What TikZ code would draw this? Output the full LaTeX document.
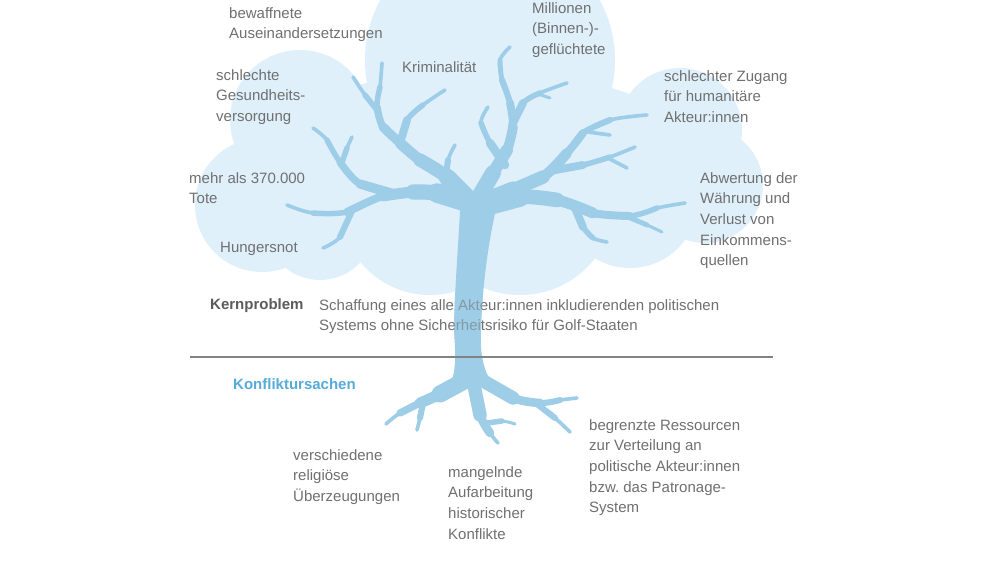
\documentclass[tikz,border=0pt]{standalone}
\usepackage{fontspec}
\setmainfont{Liberation Sans}
\frenchspacing
\definecolor{cloudc}{RGB}{223,240,251}
\definecolor{treec}{RGB}{158,205,232}
\definecolor{txtc}{RGB}{112,112,112}
\definecolor{headc}{RGB}{92,92,92}
\definecolor{bluec}{RGB}{88,170,216}
\definecolor{rulec}{RGB}{130,130,130}
\newcommand\lp[2]{\draw[tree, line width=1.22*#1pt] plot[smooth, tension=0.6] coordinates {#2};}
\begin{document}
\begin{tikzpicture}[x=1pt,y=-1pt,
  tree/.style={draw=treec, line cap=round, line join=round},
  lab/.style={anchor=north west, inner sep=0pt, align=left, text=txtc,
    font=\fontsize{15}{20.7}\selectfont},
  head/.style={lab, text=headc, font=\fontsize{15}{20.7}\selectfont\bfseries},
  cause/.style={lab, text=bluec, font=\fontsize{15}{20.7}\selectfont\bfseries}]
\useasboundingbox (0,0) rectangle (1000,571);
\fill[white] (0,0) rectangle (1000,571);
% cloud
\fill[cloudc] (490,60) circle[radius=125pt];
\fill[cloudc] (300,120) circle[radius=70pt];
\fill[cloudc] (262,205) circle[radius=67pt];
\fill[cloudc] (320,225) circle[radius=55pt];
\fill[cloudc] (430,205) circle[radius=90pt];
\fill[cloudc] (520,200) circle[radius=95pt];
\fill[cloudc] (680,130) circle[radius=62pt];
\fill[cloudc] (705,185) circle[radius=58pt];
\fill[cloudc] (630,200) circle[radius=68pt];
\fill[cloudc] (480,170) ellipse[x radius=230pt, y radius=100pt];
% trunk
\fill[treec] (461,194) .. controls (458,250) and (454,300) .. (454,330)
  .. controls (455,350) and (457,365) .. (451,384) -- (494,386)
  .. controls (482,370) and (480,350) .. (481,330)
  .. controls (482,290) and (488,240) .. (499,196) -- cycle;
% left big branch
\lp{3}{(462,200)(437,193)(413,192)(383,196)(347,212)(313,213)(287,205)}
\lp{4.5}{(462,200)(437,193)(413,192)(383,196)(347,212)(313,213)}
\lp{6.5}{(462,200)(437,193)(413,192)(383,196)(347,212)}
\lp{9}{(462,200)(437,193)(413,192)(383,196)}
\lp{12.5}{(462,200)(437,193)(413,192)}
\lp{16}{(466,202)(437,193)}
\lp{3}{(395,194)(360,184)(340,162)(327,140)(313,128)}
\lp{4.5}{(395,194)(360,184)(340,162)(327,140)}
\lp{6}{(395,194)(360,184)(340,162)}
\lp{7.5}{(395,194)(360,184)}
\lp{3}{(341,165)(347,148)(352,137)}
\lp{4.5}{(341,165)(347,148)}
\lp{3}{(352,211)(340,237)(323,248)}
\lp{5}{(352,211)(340,237)}
% middle-left upward branch
\lp{3}{(467,197)(447,177)(420,160)(400,143)(383,127)(377,107)(380,87)(382,63)}
\lp{4.5}{(467,197)(447,177)(420,160)(400,143)(383,127)(377,107)(380,87)}
\lp{6}{(467,197)(447,177)(420,160)(400,143)(383,127)(377,107)}
\lp{7.5}{(467,197)(447,177)(420,160)(400,143)(383,127)}
\lp{9}{(467,197)(447,177)(420,160)(400,143)}
\lp{11}{(467,197)(447,177)(420,160)}
\lp{14}{(467,197)(447,177)}
\lp{3}{(377,110)(365,95)(353,77)}
\lp{4.5}{(377,110)(365,95)}
\lp{3}{(400,143)(407,120)(423,105)(445,90)}
\lp{4.5}{(400,143)(407,120)(423,105)}
\lp{6.5}{(400,143)(407,120)}
\lp{3}{(445,182)(448,160)(455,145)}
\lp{5}{(445,182)(448,160)}
% tall centre-right branch
\lp{3}{(480,195)(493,173)(507,150)(513,127)(510,103)(502,80)(500,60)(510,47)}
\lp{4}{(480,195)(493,173)(507,150)(513,127)(510,103)(502,80)(500,60)}
\lp{5}{(480,195)(493,173)(507,150)(513,127)(510,103)(502,80)}
\lp{6.5}{(480,195)(493,173)(507,150)(513,127)(510,103)}
\lp{8}{(480,195)(493,173)(507,150)(513,127)}
\lp{10}{(480,195)(493,173)(507,150)}
\lp{13}{(480,195)(493,173)}
\lp{3}{(512,125)(523,103)(540,93)(567,83)}
\lp{4.5}{(512,125)(523,103)(540,93)}
\lp{6.5}{(512,125)(523,103)}
\lp{2.5}{(538,94)(550,98)}
\lp{3}{(505,165)(490,143)(481,123)(488,107)}
\lp{4.5}{(505,165)(490,143)(481,123)}
\lp{7}{(505,165)(490,143)}
% right upper branch
\lp{3}{(483,202)(513,190)(543,177)(567,153)(583,133)(610,120)(647,115)}
\lp{5}{(483,202)(513,190)(543,177)(567,153)(583,133)(610,120)}
\lp{6.5}{(483,202)(513,190)(543,177)(567,153)(583,133)}
\lp{8.5}{(483,202)(513,190)(543,177)(567,153)}
\lp{11}{(483,202)(513,190)(543,177)}
\lp{14}{(483,202)(513,190)}
\lp{3}{(588,132)(610,135)}
\lp{3}{(550,171)(583,165)(610,157)(635,147)}
\lp{4.5}{(550,171)(583,165)(610,157)}
\lp{6.5}{(550,171)(583,165)}
\lp{3}{(608,158)(627,168)}
% right lower branch
\lp{3}{(483,207)(520,197)(557,200)(593,213)(630,216)(657,208)(685,203)}
\lp{4.5}{(483,207)(520,197)(557,200)(593,213)(630,216)(657,208)}
\lp{6.5}{(483,207)(520,197)(557,200)(593,213)(630,216)}
\lp{9}{(483,207)(520,197)(557,200)(593,213)}
\lp{12}{(483,207)(520,197)(557,200)}
\lp{16}{(483,207)(520,197)}
\lp{2.5}{(628,217)(647,225)(662,232)}
\lp{4}{(628,217)(647,225)}
\lp{3}{(575,208)(583,227)(593,238)(607,242)}
\lp{4.5}{(575,208)(583,227)(593,238)}
\lp{6.5}{(575,208)(583,227)}
% roots
\lp{3}{(466,380)(440,394)(420,403)(400,413)(386,424)}
\lp{6}{(466,380)(440,394)(420,403)(400,413)}
\lp{9}{(466,380)(440,394)(420,403)}
\lp{14}{(466,380)(440,394)}
\lp{3}{(423,403)(420,418)(417,430)}
\lp{5}{(423,403)(420,418)}
\lp{3}{(474,385)(480,415)(490,433)(498,443)}
\lp{7}{(474,385)(480,415)(490,433)}
\lp{11}{(474,385)(480,415)}
\lp{2.5}{(487,423)(502,421)(515,424)}
\lp{4.5}{(487,423)(502,421)}
\lp{3}{(478,378)(513,398)(540,403)(560,400)(577,398)}
\lp{5}{(478,378)(513,398)(540,403)(560,400)}
\lp{7}{(478,378)(513,398)(540,403)}
\lp{11}{(478,378)(513,398)}
\lp{3}{(537,404)(555,418)(570,432)}
\lp{5}{(537,404)(555,418)}
% texts
\node[lab] (t1) at (229,7) {bewaffnete\\Auseinandersetzungen};
\node[lab] (t2) at (532,2) {Millionen\\(Binnen-)-\\geflüchtete};
\node[lab] (t3) at (402,61) {Kriminalität};
\node[lab] (t4) at (216,69) {schlechte\\Gesundheits-\\versorgung};
\node[lab] (t5) at (664,70) {schlechter Zugang\\für humanitäre\\Akteur:innen};
\node[lab] (t6) at (189,172) {mehr als 370.000\\Tote};
\node[lab] (t7) at (700,172) {Abwertung der\\Währung und\\Verlust von\\Einkommens-\\quellen};
\node[lab] (t8) at (220,242) {Hungersnot};
\node[head] (kp) at (210,298) {Kernproblem};
\node[lab] (kt) at (319,299) {Schaffung eines alle Akteur:innen inkludierenden politischen\\Systems ohne Sicherheitsrisiko für Golf-Staaten};
\node[cause] (ku) at (233,378) {Konfliktursachen};
\node[lab] (c1) at (293,449) {verschiedene\\religiöse\\Überzeugungen};
\node[lab] (c2) at (448,466) {mangelnde\\Aufarbeitung\\historischer\\Konflikte};
\node[lab] (c3) at (589,419) {begrenzte Ressourcen\\zur Verteilung an\\politische Akteur:innen\\bzw. das Patronage-\\System};
% trunk over the text
\begin{scope}
\clip (440,291) rectangle (500,338);
\fill[treec, fill opacity=0.45] (461,194) .. controls (458,250) and (454,300) .. (454,330)
  .. controls (455,350) and (457,365) .. (451,384) -- (494,386)
  .. controls (482,370) and (480,350) .. (481,330)
  .. controls (482,290) and (488,240) .. (499,196) -- cycle;
\end{scope}
% rule
\coordinate (rl) at (190,357);
\coordinate (rr) at (773,357);
\draw[rulec, line width=1.3pt] (rl) -- (rr);
\end{tikzpicture}
\end{document}
